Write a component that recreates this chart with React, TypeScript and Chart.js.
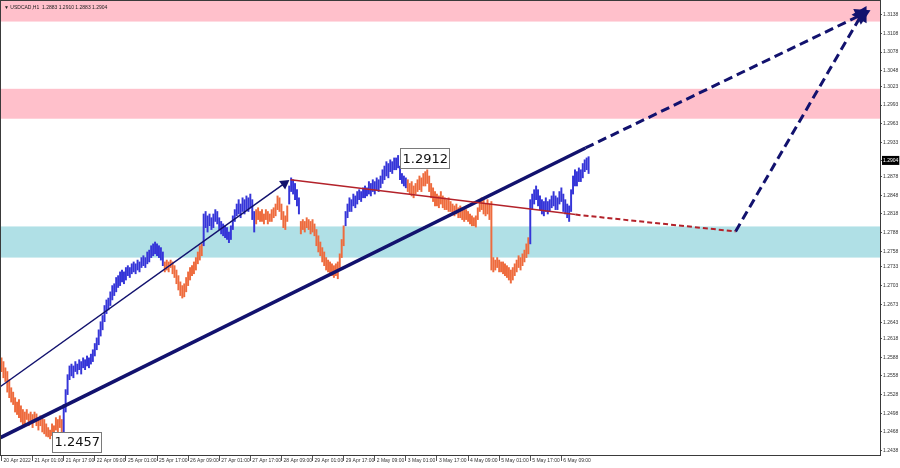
import React, { useEffect, useRef } from 'react';
import { Chart, registerables } from 'chart.js';

Chart.register(...registerables);

// ---------- data ----------
const symbolTitle = '\u25BC USDCAD,H1  1.2883 1.2910 1.2883 1.2904';

const timeLabels = [
  '20 Apr 2022', '21 Apr 01:00', '21 Apr 17:00', '22 Apr 09:00', '25 Apr 01:00',
  '25 Apr 17:00', '26 Apr 09:00', '27 Apr 01:00', '27 Apr 17:00', '28 Apr 09:00',
  '29 Apr 01:00', '29 Apr 17:00', '2 May 09:00', '3 May 01:00', '3 May 17:00',
  '4 May 09:00', '5 May 01:00', '5 May 17:00', '6 May 09:00',
];
const barsPerTimeLabel = 16;

const priceTicks = [
  1.3138, 1.3108, 1.3078, 1.3048, 1.3023, 1.2993, 1.2963, 1.2933, 1.2904, 1.2878,
  1.2848, 1.2818, 1.2788, 1.2758, 1.2733, 1.2703, 1.2673, 1.2643, 1.2618, 1.2588,
  1.2558, 1.2528, 1.2498, 1.2468, 1.2438,
];
const currentPrice = 1.2904;

// H1 bar highs (index 0 = 20 Apr 09:00)
const barHighs = [
  // wave down 0-31
  1.2587, 1.2581, 1.2571, 1.2565, 1.2552, 1.2539, 1.2532, 1.2523, 1.2516, 1.2520,
  1.2510, 1.2504, 1.2500, 1.2504, 1.2497, 1.2500, 1.2496, 1.2500, 1.2497, 1.2491,
  1.2494, 1.2491, 1.2488, 1.2481, 1.2475, 1.2471, 1.2481, 1.2478, 1.2491, 1.2488,
  1.2494, 1.2488,
  // wave up 32-83
  1.2512, 1.2536, 1.2560, 1.2574, 1.2577, 1.2574, 1.2581, 1.2577, 1.2584, 1.2581,
  1.2587, 1.2584, 1.2590, 1.2587, 1.2593, 1.2600, 1.2610, 1.2619, 1.2632, 1.2645,
  1.2655, 1.2671, 1.2680, 1.2683, 1.2693, 1.2703, 1.2706, 1.2716, 1.2719, 1.2725,
  1.2728, 1.2725, 1.2732, 1.2735, 1.2732, 1.2738, 1.2741, 1.2738, 1.2744, 1.2741,
  1.2748, 1.2751, 1.2748, 1.2757, 1.2760, 1.2767, 1.2770, 1.2773, 1.2770, 1.2767,
  1.2764, 1.2757,
  // wave down 84-103
  1.2741, 1.2744, 1.2741, 1.2744, 1.2741, 1.2735, 1.2728, 1.2719, 1.2709, 1.2703,
  1.2706, 1.2716, 1.2725, 1.2732, 1.2735, 1.2741, 1.2748, 1.2757, 1.2767, 1.2770,
  // wave up 104-130
  1.2818, 1.2822, 1.2815, 1.2818, 1.2812, 1.2818, 1.2825, 1.2822, 1.2812, 1.2806,
  1.2802, 1.2799, 1.2796, 1.2789, 1.2799, 1.2815, 1.2825, 1.2834, 1.2841, 1.2834,
  1.2844, 1.2841, 1.2847, 1.2844, 1.2850, 1.2841, 1.2822,
  // wave down 131-147
  1.2825, 1.2828, 1.2822, 1.2825, 1.2818, 1.2825, 1.2822, 1.2818, 1.2825, 1.2828,
  1.2834, 1.2847, 1.2844, 1.2834, 1.2822, 1.2815, 1.2831,
  // wave up 148-153
  1.2863, 1.2876, 1.2873, 1.2867, 1.2857, 1.2844,
  // wave down 154-176
  1.2806, 1.2809, 1.2806, 1.2812, 1.2809, 1.2806, 1.2809, 1.2802, 1.2793, 1.2783,
  1.2773, 1.2764, 1.2757, 1.2748, 1.2744, 1.2741, 1.2738, 1.2735, 1.2738, 1.2741,
  1.2754, 1.2777, 1.2799,
  // wave up 177-208
  1.2822, 1.2834, 1.2844, 1.2841, 1.2850, 1.2847, 1.2854, 1.2857, 1.2854, 1.2860,
  1.2863, 1.2860, 1.2870, 1.2867, 1.2873, 1.2870, 1.2876, 1.2873, 1.2879, 1.2889,
  1.2895, 1.2902, 1.2899, 1.2905, 1.2902, 1.2908, 1.2908, 1.2912, 1.2895, 1.2883,
  1.2879, 1.2876,
  // wave down 209-271
  1.2873, 1.2867, 1.2870, 1.2863, 1.2867, 1.2873, 1.2879, 1.2876, 1.2883, 1.2886,
  1.2889, 1.2879, 1.2867, 1.2860, 1.2854, 1.2850, 1.2847, 1.2854, 1.2847, 1.2844,
  1.2841, 1.2844, 1.2838, 1.2834, 1.2831, 1.2834, 1.2828, 1.2831, 1.2828, 1.2825,
  1.2825, 1.2822, 1.2818, 1.2815, 1.2812, 1.2815, 1.2828, 1.2841, 1.2844, 1.2841,
  1.2834, 1.2841, 1.2834, 1.2838, 1.2748, 1.2744, 1.2748, 1.2744, 1.2741, 1.2741,
  1.2738, 1.2735, 1.2732, 1.2728, 1.2732, 1.2738, 1.2744, 1.2751, 1.2748, 1.2754,
  1.2760, 1.2770, 1.2780,
  // wave up 272-302
  1.2841, 1.2850, 1.2857, 1.2863, 1.2857, 1.2847, 1.2841, 1.2838, 1.2844, 1.2838,
  1.2841, 1.2847, 1.2854, 1.2847, 1.2844, 1.2854, 1.2860, 1.2850, 1.2841, 1.2834,
  1.2831, 1.2857, 1.2879, 1.2889, 1.2886, 1.2892, 1.2889, 1.2899, 1.2905, 1.2908,
  1.2910,
];

const barLows = [
  1.2565, 1.2555, 1.2549, 1.2532, 1.2523, 1.2516, 1.2512, 1.2500, 1.2496, 1.2491,
  1.2484, 1.2479, 1.2481, 1.2488, 1.2478, 1.2481, 1.2475, 1.2484, 1.2478, 1.2471,
  1.2478, 1.2468, 1.2465, 1.2461, 1.2460, 1.2457, 1.2462, 1.2459, 1.2471, 1.2468,
  1.2475, 1.2465,
  1.2468, 1.2500, 1.2528, 1.2552, 1.2558, 1.2555, 1.2565, 1.2561, 1.2568, 1.2561,
  1.2571, 1.2568, 1.2574, 1.2571, 1.2577, 1.2581, 1.2590, 1.2600, 1.2608, 1.2622,
  1.2632, 1.2645, 1.2658, 1.2664, 1.2671, 1.2680, 1.2687, 1.2693, 1.2700, 1.2703,
  1.2709, 1.2706, 1.2712, 1.2719, 1.2716, 1.2722, 1.2725, 1.2722, 1.2728, 1.2725,
  1.2732, 1.2735, 1.2732, 1.2738, 1.2741, 1.2748, 1.2751, 1.2754, 1.2751, 1.2748,
  1.2744, 1.2735,
  1.2725, 1.2728, 1.2725, 1.2732, 1.2722, 1.2716, 1.2706, 1.2696, 1.2687, 1.2683,
  1.2685, 1.2693, 1.2703, 1.2712, 1.2719, 1.2722, 1.2728, 1.2738, 1.2744, 1.2751,
  1.2767, 1.2796, 1.2789, 1.2799, 1.2793, 1.2796, 1.2806, 1.2802, 1.2793, 1.2786,
  1.2783, 1.2780, 1.2777, 1.2772, 1.2777, 1.2793, 1.2806, 1.2815, 1.2818, 1.2812,
  1.2822, 1.2818, 1.2825, 1.2822, 1.2828, 1.2809, 1.2789,
  1.2802, 1.2809, 1.2806, 1.2806, 1.2802, 1.2809, 1.2802, 1.2806, 1.2806, 1.2812,
  1.2815, 1.2825, 1.2822, 1.2809, 1.2796, 1.2793, 1.2806,
  1.2834, 1.2854, 1.2850, 1.2841, 1.2831, 1.2818,
  1.2786, 1.2793, 1.2789, 1.2796, 1.2793, 1.2786, 1.2789, 1.2783, 1.2767, 1.2757,
  1.2751, 1.2741, 1.2735, 1.2728, 1.2725, 1.2722, 1.2719, 1.2716, 1.2719, 1.2714,
  1.2732, 1.2748, 1.2767,
  1.2799, 1.2812, 1.2822, 1.2822, 1.2831, 1.2828, 1.2834, 1.2841, 1.2838, 1.2844,
  1.2844, 1.2847, 1.2850, 1.2847, 1.2854, 1.2850, 1.2857, 1.2854, 1.2860, 1.2867,
  1.2873, 1.2879, 1.2876, 1.2886, 1.2883, 1.2889, 1.2889, 1.2892, 1.2873, 1.2867,
  1.2863, 1.2860,
  1.2854, 1.2850, 1.2847, 1.2844, 1.2850, 1.2854, 1.2857, 1.2854, 1.2863, 1.2863,
  1.2867, 1.2854, 1.2844, 1.2838, 1.2831, 1.2831, 1.2828, 1.2834, 1.2828, 1.2825,
  1.2825, 1.2822, 1.2822, 1.2818, 1.2815, 1.2818, 1.2812, 1.2812, 1.2809, 1.2806,
  1.2809, 1.2806, 1.2802, 1.2799, 1.2799, 1.2797, 1.2809, 1.2822, 1.2825, 1.2818,
  1.2815, 1.2818, 1.2809, 1.2728, 1.2725, 1.2728, 1.2732, 1.2725, 1.2725, 1.2722,
  1.2719, 1.2716, 1.2712, 1.2707, 1.2712, 1.2719, 1.2725, 1.2732, 1.2728, 1.2735,
  1.2741, 1.2748, 1.2754,
  1.2770, 1.2825, 1.2834, 1.2841, 1.2831, 1.2825, 1.2818, 1.2815, 1.2822, 1.2818,
  1.2822, 1.2828, 1.2831, 1.2825, 1.2825, 1.2834, 1.2838, 1.2822, 1.2818, 1.2812,
  1.2806, 1.2822, 1.2850, 1.2863, 1.2863, 1.2870, 1.2870, 1.2876, 1.2886, 1.2889,
  1.2883,
];

// first bar index of every wave, and whether the wave is rising
const waveStarts = [0, 32, 84, 104, 131, 148, 154, 177, 209, 272];
const waveRising = [false, true, false, true, false, true, false, true, false, true];

// price zones [low, high]
const resistanceZones = [[1.3127, 1.3175], [1.2971, 1.3019]];
const supportZones = [[1.2748, 1.2798]];

// wave lines: bar index / price
const impulseArrowX = [-0.5, 145.6];
const impulseArrowY = [1.2541, 1.2867];
const trendSolidX = [-0.5, 300.4];
const trendSolidY = [1.2459, 1.2924];
const trendForecastX = [300.4, 442.4];
const trendForecastY = [1.2924, 1.3138];
const correctionSolidX = [148.7, 295.3];
const correctionSolidY = [1.2873, 1.2817];
const correctionForecastX = [295.3, 377.6];
const correctionForecastY = [1.2817, 1.2790];
const reversalForecastX = [377.6, 442.4];
const reversalForecastY = [1.2790, 1.3138];

// extreme price labels
const extremeIdx = [25, 204];
const extremePrice = [1.2457, 1.2912];

// ---------- styling ----------
const UP = '#3535d8';
const DOWN = '#ee6b3d';
const NAVY = '#12126e';
const RED = '#b3222a';
const SMALL_FONT = '"Liberation Sans", Arial, sans-serif';

const overlayPlugin = {
  id: 'waveOverlay',
  beforeDatasetsDraw(chart: any) {
    const { ctx, chartArea: a, scales } = chart;
    const y = scales.y;
    ctx.save();
    const paint = (zones: number[][], color: string) => {
      zones.forEach(([lo, hi]) => {
        const top = Math.max(y.getPixelForValue(hi), a.top);
        const bot = Math.min(y.getPixelForValue(lo), a.bottom);
        ctx.fillStyle = color;
        ctx.fillRect(a.left, top, a.right - a.left, bot - top);
      });
    };
    paint(resistanceZones, '#ffc0cb');
    paint(supportZones, '#b0e0e6');
    ctx.restore();
  },
  afterDatasetsDraw(chart: any) {
    const { ctx, scales } = chart;
    ctx.save();
    ctx.font = '13px "DejaVu Sans", sans-serif';
    ctx.textBaseline = 'middle';
    extremeIdx.forEach((idx, i) => {
      const text = extremePrice[i].toFixed(4);
      const px = scales.x.getPixelForValue(idx) + 2;
      const py = scales.y.getPixelForValue(extremePrice[i]) + 3;
      const w = ctx.measureText(text).width + 4;
      const h = 20;
      ctx.fillStyle = '#ffffff';
      ctx.fillRect(Math.round(px) + 0.5, Math.round(py - h / 2) + 0.5, Math.round(w), h);
      ctx.strokeStyle = '#7a7a7a';
      ctx.lineWidth = 1;
      ctx.strokeRect(Math.round(px) + 0.5, Math.round(py - h / 2) + 0.5, Math.round(w), h);
      ctx.fillStyle = '#111';
      ctx.fillText(text, px + 2.5, py + 1);
    });
    ctx.restore();
  },
  afterDraw(chart: any) {
    const { ctx, chartArea: a } = chart;
    ctx.save();
    ctx.strokeStyle = '#3a3a3a';
    ctx.lineWidth = 1;
    ctx.strokeRect(a.left - 0.5, a.top - 0.5, a.right - a.left + 1, a.bottom - a.top + 1);
    ctx.fillStyle = '#222';
    ctx.font = `5px ${SMALL_FONT}`;
    ctx.textBaseline = 'middle';
    ctx.fillText(symbolTitle, a.left + 3, a.top + 7);
    ctx.restore();
  },
};

export default function App() {
  const ref = useRef<HTMLCanvasElement>(null);

  useEffect(() => {
    const canvas = ref.current;
    if (!canvas) return;

    const barColors = barHighs.map((_, i) => {
      let w = 0;
      for (let k = 0; k < waveStarts.length; k++) if (i >= waveStarts[k]) w = k;
      return waveRising[w] ? UP : DOWN;
    });

    const line = (
      xs: number[], ys: number[], color: string, width: number,
      dash: number[], head?: { size: number; rot: number },
    ) => ({
      type: 'line',
      data: xs.map((x, i) => ({ x, y: ys[i] })),
      borderColor: color,
      borderWidth: width,
      borderDash: dash,
      borderCapStyle: 'butt',
      tension: 0,
      pointRadius: xs.map((_, i) => (head && i === xs.length - 1 ? head.size : 0)),
      pointStyle: 'triangle',
      pointRotation: head ? head.rot : 0,
      pointBackgroundColor: color,
      pointBorderColor: color,
      pointBorderWidth: 0,
      order: 0,
      clip: false,
    });

    const chart = new Chart(canvas, {
      type: 'bar',
      data: {
        datasets: [
          {
            type: 'bar',
            data: barHighs.map((h, i) => ({ x: i, y: [barLows[i], h] })),
            backgroundColor: barColors,
            borderWidth: 0,
            barThickness: 1.3,
            grouped: false,
            order: 2,
          } as any,
          line(correctionSolidX, correctionSolidY, RED, 1.5, []),
          line(correctionForecastX, correctionForecastY, RED, 2, [5, 3]),
          line(impulseArrowX, impulseArrowY, NAVY, 1.5, [], { size: 6, rot: 54 }),
          line(trendSolidX, trendSolidY, NAVY, 3.5, []),
          line(trendForecastX, trendForecastY, NAVY, 3, [9, 5], { size: 10, rot: 64 }),
          line(reversalForecastX, reversalForecastY, NAVY, 3, [9, 5], { size: 10, rot: 30 }),
        ] as any,
      },
      options: {
        animation: false,
        responsive: false,
        events: [],
        layout: { autoPadding: false, padding: { left: 1, top: 1, right: 0, bottom: 0 } },
        plugins: { legend: { display: false }, tooltip: { enabled: false }, title: { display: false } },
        scales: {
          x: {
            type: 'linear',
            min: -0.25,
            max: 451.9,
            offset: false,
            afterBuildTicks: (s: any) => {
              s.ticks = timeLabels.map((_, i) => ({ value: i * barsPerTimeLabel }));
            },
            afterFit: (s: any) => { s.height = 13; s.paddingLeft = 0; s.paddingRight = 0; },
            ticks: {
              autoSkip: false,
              maxRotation: 0,
              align: 'start',
              labelOffset: 2,
              padding: -3,
              color: '#333',
              font: { size: 5, family: SMALL_FONT },
              callback: (_v: any, i: number) => timeLabels[i],
            },
            grid: { offset: false, drawOnChartArea: false, drawTicks: true, tickLength: 6, color: '#555' },
            border: { display: true, color: '#333' },
          },
          y: {
            type: 'linear',
            position: 'right',
            min: 1.2431,
            max: 1.3160,
            afterBuildTicks: (s: any) => {
              s.ticks = priceTicks.map((v) => ({ value: v }));
            },
            afterFit: (s: any) => { s.width = 20; s.paddingTop = 0; s.paddingBottom = 0; },
            ticks: {
              autoSkip: false,
              padding: 1,
              font: { size: 5, family: SMALL_FONT },
              color: (c: any) => (c.tick && c.tick.value === currentPrice ? '#ffffff' : '#333'),
              showLabelBackdrop: (c: any) => !!(c.tick && c.tick.value === currentPrice),
              backdropColor: '#000000',
              backdropPadding: { x: 1, y: 1.5 },
              callback: (v: any) => Number(v).toFixed(4),
            },
            grid: { drawOnChartArea: false, drawTicks: true, tickLength: 2, color: '#555' },
            border: { display: true, color: '#333' },
          },
        },
      } as any,
      plugins: [overlayPlugin],
    });

    return () => chart.destroy();
  }, []);

  return (
    <div style={{ position: 'absolute', left: 0, top: 0, width: 900, height: 468, background: '#fff' }}>
      <canvas ref={ref} width={900} height={468} style={{ display: 'block' }} />
    </div>
  );
}
